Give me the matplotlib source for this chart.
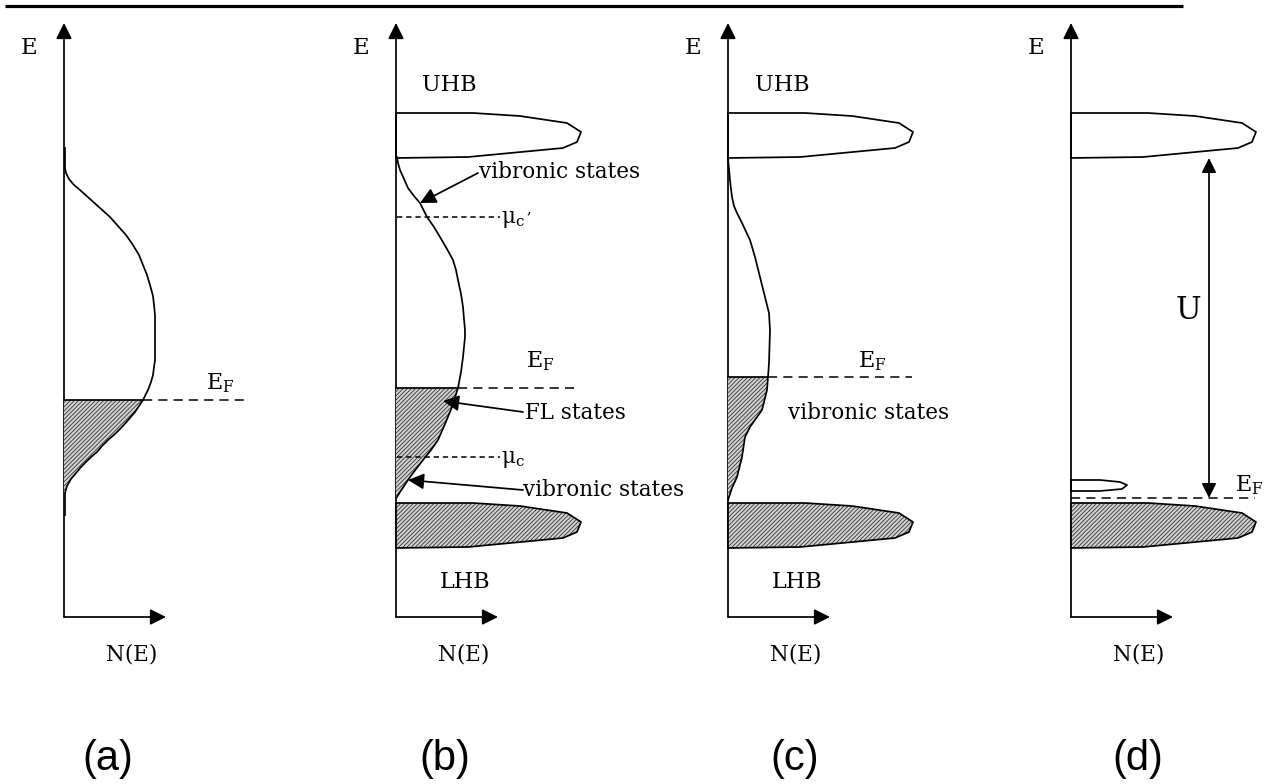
import numpy as np
import matplotlib
matplotlib.use("Agg")
import matplotlib.pyplot as plt
from matplotlib.patches import Polygon, FancyArrowPatch

plt.rcParams['mathtext.fontset'] = 'dejavuserif'
plt.rcParams['hatch.linewidth'] = 0.6

# ---------------- data (N = density of states, E = energy, arbitrary units) -------------
panel_names = ["(a)", "(b)", "(c)", "(d)"]

# (a) single metallic band
dos_a_N = [1, 1, 2, 5, 10, 16, 26, 36, 46, 54, 62, 69, 75, 79, 83, 86, 89, 90, 91, 91, 91, 90, 89, 87, 84, 79, 75, 71, 65, 58, 51, 44, 38, 33, 27, 22, 17, 12, 7, 3, 1, 1]
dos_a_E = [469, 449, 444, 438, 432, 427, 418, 409, 400, 391, 382, 372, 362, 352, 342, 332, 321, 312, 302, 292, 257, 250, 242, 235, 227, 217, 211, 205, 198, 190, 183, 177, 171, 165, 160, 155, 150, 144, 138, 131, 124, 102]
ef_a = 217

# Hubbard band template (outline: N, E above band bottom)
band_N = [0, 0, 77, 124, 171, 185, 181, 167, 72, 0]
band_dE = [0, 45, 45, 42, 35, 26, 16, 10, 1, 0]
uhb_bottom = 459
lhb_bottom = 69

# (b) vibronic + FL states between Hubbard bands
dos_b_N = [1, 2, 4, 8, 12, 18, 24, 31, 38, 44, 51, 57, 60, 62, 65, 67, 68, 69, 69, 68, 67, 65, 62, 56, 49, 42, 35, 27, 17, 12, 4, 1]
dos_b_E = [460, 454, 447, 438, 429, 421, 414, 400, 390, 380, 368, 357, 347, 337, 323, 310, 298, 287, 280, 270, 260, 245, 229, 210, 193, 177, 167, 157, 144, 137, 125, 120]
ef_b = 229
mu_c_prime = 400
mu_c = 160

# (c) vibronic states
dos_c_N = [0, 2, 3, 4, 6, 9, 14, 22, 27, 32, 37, 41, 42, 41, 40, 39, 34, 22, 17, 14, 9, 4, 0]
dos_c_E = [458, 437, 428, 420, 411, 404, 394, 377, 360, 340, 320, 304, 287, 254, 240, 227, 207, 190, 180, 160, 140, 129, 117]
ef_c = 240

# (d) small in-gap band
small_N = [0, 29, 49, 56, 51, 29, 0, 0]
small_E = [137, 137, 135, 132, 128, 126, 126, 137]
ef_d = 119

# ---------------- layout ----------------
panel_x0 = [64, 396, 728, 1071]
axis_top = 594
axis_len = 102
fig = plt.figure(figsize=(12.76, 7.84), dpi=100)
ax = fig.add_axes([0, 0, 1, 1])
ax.set_xlim(0, 1276)
ax.set_ylim(-167, 617)
ax.axis('off')

SERIF = 'DejaVu Serif'
FS = 15.5
LW = 1.25
HATCH = dict(facecolor='#d2d2d2', edgecolor='#333333', hatch='////////', linewidth=0)

# top rule
ax.plot([5, 1183], [611, 611], color='black', lw=2.3, solid_capstyle='butt')


def arrow(p0, p1, ms=20, lw=LW, both=False, head=None):
    if head is None:
        style = '<|-|>' if both else '-|>'
    else:
        style = head
    a = FancyArrowPatch(p0, p1, arrowstyle=style, mutation_scale=ms, lw=lw,
                        color='black', shrinkA=0, shrinkB=0)
    ax.add_patch(a)


AXIS_HEAD = '-|>,head_length=0.6,head_width=0.3'


def axes_frame(x0, name, label_dx):
    arrow((x0, 0), (x0, axis_top), ms=16, head=AXIS_HEAD)
    arrow((x0, 0), (x0 + axis_len, 0), ms=16, head=AXIS_HEAD)
    ax.text(x0 - 35, 569, "E", fontsize=16.5, family=SERIF, ha='center', va='center')
    ax.text(x0 + 68, -38, "N(E)", fontsize=FS, family=SERIF, ha='center', va='center')
    ax.text(x0 + label_dx, -142, name, fontsize=30, family='Liberation Sans', ha='center', va='center')


def band(x0, bottom, filled):
    xs = x0 + np.array(band_N)
    ys = bottom + np.array(band_dE)
    if filled:
        ax.add_patch(Polygon(np.c_[xs, ys], closed=True, **HATCH))
    ax.plot(xs, ys, color='black', lw=LW)


def filled_below(x0, N, E, ef):
    N = np.array(N, float)
    E = np.array(E, float)
    m = E <= ef
    order = np.argsort(E)
    n_ef = np.interp(ef, E[order], N[order])
    xs = np.r_[n_ef, N[m], 0, 0]
    ys = np.r_[ef, E[m], E[m][-1], ef]
    ax.add_patch(Polygon(np.c_[x0 + xs, ys], closed=True, **HATCH))
    ax.plot([x0, x0 + n_ef], [ef, ef], color='black', lw=LW)
    return n_ef


def ef_line(x0, n_start, n_end, e, dashes=(6, 4)):
    ax.plot([x0 + n_start, x0 + n_end], [e, e], color='black', lw=1.1, dashes=dashes)


def ef_label(x, y, size=16):
    ax.text(x, y, r"E$_\mathregular{F}$", fontsize=size, family=SERIF, ha='center', va='center')


# ----- (a) -----
x0 = panel_x0[0]
axes_frame(x0, panel_names[0], 44)
n_ef = filled_below(x0, dos_a_N, dos_a_E, ef_a)
ax.plot(x0 + np.array(dos_a_N), dos_a_E, color='black', lw=LW)
ef_line(x0, n_ef, 184, ef_a)
ef_label(x0 + 156, 234)

# ----- (b) -----
x0 = panel_x0[1]
axes_frame(x0, panel_names[1], 49)
band(x0, uhb_bottom, False)
band(x0, lhb_bottom, True)
n_ef = filled_below(x0, dos_b_N, dos_b_E, ef_b)
ax.plot(x0 + np.array(dos_b_N), dos_b_E, color='black', lw=LW)
ef_line(x0, n_ef, 184, ef_b)
ef_label(x0 + 144, 256)
ef_line(x0, 1, 104, mu_c_prime, dashes=(3.5, 2.5))
ef_line(x0, 1, 104, mu_c, dashes=(3.5, 2.5))
ax.text(x0 + 105, mu_c_prime - 2, r"$\mathregular{\mu_c}^{\,,}$", fontsize=FS, family=SERIF, ha='left', va='center')
ax.text(x0 + 105, mu_c - 2, r"$\mathregular{\mu_c}$", fontsize=FS, family=SERIF, ha='left', va='center')
ax.text(x0 + 53, 532, "UHB", fontsize=16, family=SERIF, ha='center', va='center')
ax.text(x0 + 69, 35, "LHB", fontsize=16, family=SERIF, ha='center', va='center')
ax.text(x0 + 83, 445, "vibronic states", fontsize=FS, family=SERIF, ha='left', va='center')
arrow((x0 + 82, 444), (x0 + 24, 414), ms=24)
ax.text(x0 + 129, 204, "FL states", fontsize=FS, family=SERIF, ha='left', va='center')
arrow((x0 + 127, 205), (x0 + 47, 216), ms=24)
ax.text(x0 + 127, 127, "vibronic states", fontsize=FS, family=SERIF, ha='left', va='center')
arrow((x0 + 127, 127), (x0 + 12, 137), ms=24)

# ----- (c) -----
x0 = panel_x0[2]
axes_frame(x0, panel_names[2], 67)
band(x0, uhb_bottom, False)
band(x0, lhb_bottom, True)
n_ef = filled_below(x0, dos_c_N, dos_c_E, ef_c)
ax.plot(x0 + np.array(dos_c_N), dos_c_E, color='black', lw=LW)
ef_line(x0, n_ef, 184, ef_c)
ef_label(x0 + 144, 256)
ax.text(x0 + 54, 532, "UHB", fontsize=16, family=SERIF, ha='center', va='center')
ax.text(x0 + 69, 35, "LHB", fontsize=16, family=SERIF, ha='center', va='center')
ax.text(x0 + 60, 204, "vibronic states", fontsize=FS, family=SERIF, ha='left', va='center')

# ----- (d) -----
x0 = panel_x0[3]
axes_frame(x0, panel_names[3], 67)
band(x0, uhb_bottom, False)
band(x0, lhb_bottom, True)
ax.plot(x0 + np.array(small_N), small_E, color='black', lw=LW)
ef_line(x0, 0, 184, ef_d)
ef_label(x0 + 178, 132)
arrow((x0 + 138, ef_d), (x0 + 138, uhb_bottom), ms=22, both=True)
ax.text(x0 + 117, 307, "U", fontsize=22, family=SERIF, ha='center', va='center')

fig.savefig("out.png", dpi=100)
